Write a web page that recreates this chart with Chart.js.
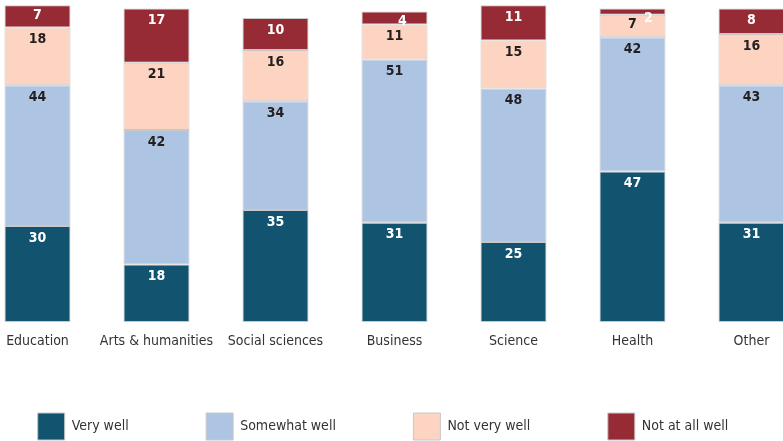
<!DOCTYPE html>
<html>
<head>
<meta charset="utf-8">
<script src="https://cdn.jsdelivr.net/npm/chart.js@4.4.0/dist/chart.umd.min.js"></script>
<style>
  html, body { margin: 0; padding: 0; background: #ffffff; overflow: hidden; width: 783px; height: 441px; position: relative; }
  #wrap { position: absolute; left: -45px; top: 0; width: 856px; height: 451px; }
</style>
</head>
<body>
<div id="wrap"><canvas id="c"></canvas></div>
<script>
const categories = ["Education", "Arts & humanities", "Social sciences", "Business", "Science", "Health", "Other"];
const seriesNames = ["Very well", "Somewhat well", "Not very well", "Not at all well"];
const veryWell      = [30, 18, 35, 31, 25, 47, 31];
const somewhatWell  = [44, 42, 34, 51, 48, 42, 43];
const notVeryWell   = [18, 21, 16, 11, 15, 7, 16];
const notAtAllWell  = [7, 17, 10, 4, 11, 2, 8];
const colors = ["#12536f", "#aec4e3", "#fdd3c2", "#962b35"];
const labelColors = ["#ffffff", "#231f20", "#231f20", "#ffffff"];

const FONT = "'DejaVu Sans Condensed', 'Liberation Sans Narrow', sans-serif";

const valueLabels = {
  id: 'valueLabels',
  afterDatasetsDraw(chart) {
    const ctx = chart.ctx;
    ctx.save();
    ctx.font = "bold 14px " + FONT;
    ctx.textAlign = 'center';
    ctx.textBaseline = 'middle';
    chart.data.datasets.forEach((ds, di) => {
      const meta = chart.getDatasetMeta(di);
      meta.data.forEach((bar, i) => {
        const v = ds.data[i];
        const top = Math.min(bar.y, bar.base);
        let x = bar.x;
        let y = top + 12;
        if (v < 8) y = top + 10;
        if (v < 5) x += (6 - v) * 4;
        ctx.fillStyle = labelColors[di];
        ctx.fillText(String(v), x, y);
      });
    });
    ctx.restore();
  }
};

const seriesData = [veryWell, somewhatWell, notVeryWell, notAtAllWell];

new Chart(document.getElementById('c'), {
  type: 'bar',
  data: {
    labels: categories,
    datasets: seriesNames.map((name, i) => ({
      label: name,
      data: seriesData[i],
      backgroundColor: colors[i],
      borderColor: '#c8c8c8',
      borderWidth: 1,
      borderSkipped: false,
      barPercentage: 0.555,
      categoryPercentage: 1.0
    }))
  },
  options: {
    responsive: true,
    maintainAspectRatio: false,
    animation: false,
    layout: { padding: { top: 2, bottom: 1, left: 0, right: 0 } },
    scales: {
      x: {
        stacked: true,
        grid: { display: false, drawTicks: false },
        border: { display: false },
        ticks: { color: '#333333', font: { family: FONT, size: 14 }, padding: 11, maxRotation: 0, autoSkip: false },
        afterFit(s) { s.height = 13.5; s._computeLabelArea = () => undefined; }
      },
      y: {
        stacked: true,
        min: 0, max: 100,
        display: true,
        grid: { display: false, drawTicks: false },
        border: { display: false },
        ticks: { display: false },
        afterFit(s) { s.width = 23; }
      }
    },
    plugins: {
      legend: {
        position: 'bottom',
        labels: {
          boxWidth: 27,
          boxHeight: 27,
          padding: 77.5,
          color: '#333333',
          font: { family: FONT, size: 14 }
        }
      },
      tooltip: { enabled: false }
    }
  },
  plugins: [valueLabels]
});
</script>
</body>
</html>
